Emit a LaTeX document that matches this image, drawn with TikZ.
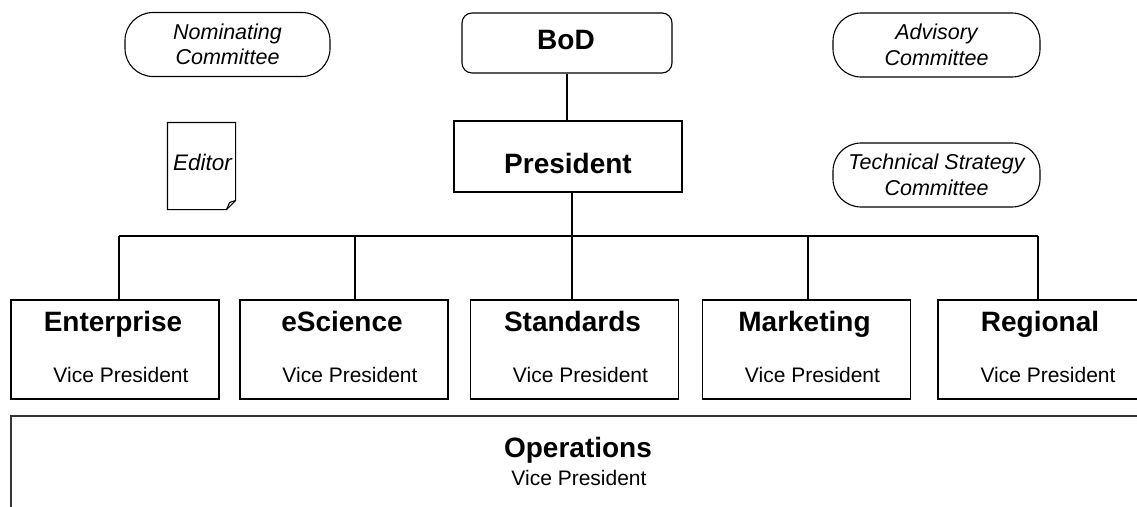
\documentclass[tikz,border=0pt]{standalone}
\usepackage{fontspec}
\setmainfont{Liberation Sans}
\usetikzlibrary{positioning}
\tikzset{vpbox/.style={draw, line width=1.1pt, minimum width=208pt, minimum height=99pt, inner sep=0pt}}
\tikzset{committee/.style={draw, line width=1.1pt, rounded corners=28pt, minimum width=205pt, minimum height=64pt,
  inner sep=0pt, align=center, font=\fontsize{21.5}{25.5}\selectfont\itshape}}
\tikzset{headtext/.style={anchor=base, inner sep=0pt, font=\fontsize{28}{32}\selectfont\bfseries}}
\tikzset{subtext/.style={anchor=base, inner sep=0pt, font=\fontsize{21}{25}\selectfont}}

\begin{document}
\begin{tikzpicture}[x=1pt, y=-1pt, line width=1.1pt]
      \useasboundingbox (0,0) rectangle (1137,506);
      \clip (0,0) rectangle (1137,506);

      % committees
      \node [committee] (nomc) at (227.5,44.5) {Nominating\\Committee};
      \node [committee, minimum width=207pt] (advc) at (936.5,45) {Advisory\\Committee};
      \node [committee, minimum width=207pt] (tscc) at (936.5,175) {Technical Strategy\\Committee};

      % board and president
      \node [draw, rounded corners=10pt, minimum width=210pt, minimum height=60pt] (bod) at (567,43) {};
      \node [headtext] (bodtxt) at (566,49) {BoD};
      \node [draw, minimum width=228pt, minimum height=71pt] (pres) at (568,156.5) {};
      \node [headtext] (prestxt) at (568,173) {President};
      \draw (bod.south) -- (bod.south |- pres.north);

      % editor
      \node [minimum width=67pt, minimum height=86pt, inner sep=0pt] (editor) at (201.5,166) {};
      \draw (editor.north west) -- (editor.north east) -- ([yshift=9pt]editor.south east)
        -- ([xshift=-9pt]editor.south east) -- (editor.south west) -- cycle;
      \draw ([yshift=9pt]editor.south east) -- ([xshift=-6pt, yshift=7pt]editor.south east) -- ([xshift=-9pt]editor.south east);
      \node [anchor=base, inner sep=0pt, font=\fontsize{22.5}{26}\selectfont\itshape] (edtxt) at (202.5,170) {Editor};

      % vice presidents
      \foreach \n/\x/\t in {ent/115/Enterprise, esc/344/eScience, std/574.5/Standards, mkt/806.5/Marketing, reg/1042/Regional} {
        \node [vpbox] (\n) at (\x,349.5) {};
        \node [headtext] (\n-h) at ([xshift=-2pt, yshift=-32pt]\n.north) {\t};
        \node [subtext] (\n-s) at ([xshift=6pt, yshift=-83pt]\n.north) {Vice President};
      }

      % bus
      \coordinate (busL) at (119,236);
      \coordinate (busR) at (1038,236);
      \draw (busL) -- (busR);
      \foreach \n/\x in {ent/119, esc/355, std/572, mkt/808, reg/1038} {
        \coordinate (t\n) at (\x,236);
        \draw (t\n) -- (t\n |- \n.north);
      }
      \draw (tstd |- pres.south) -- (tstd);

      % operations
      \node [draw=black!80, line width=1.6pt, minimum width=1150pt, minimum height=120pt, anchor=north west] (ops) at (10,415) {};
      \node [headtext] (ops-h) at (578,457) {Operations};
      \node [subtext] (ops-s) at (579,485) {Vice President};
    \end{tikzpicture}
\end{document}
